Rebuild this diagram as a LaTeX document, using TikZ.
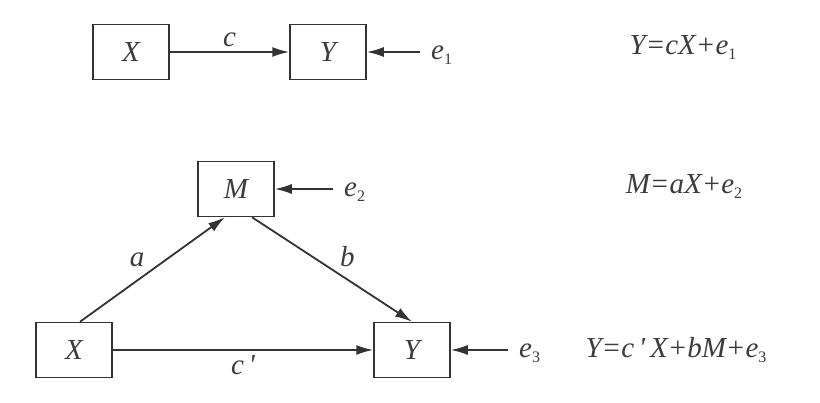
\documentclass[tikz,border=0pt]{standalone}
\usepackage{fontspec}
\setmainfont{Liberation Serif}
\usepackage{xcolor}
\usetikzlibrary{arrows.meta, positioning}
\definecolor{linegray}{HTML}{333333}
\definecolor{textgray}{HTML}{3C3C3C}
\newcommand{\sub}[1]{\raisebox{-5pt}{\upshape\fontsize{16}{16}\selectfont #1}}

\begin{document}
\begin{tikzpicture}[
        x=1pt, y=-1pt,
        every node/.style={font=\fontsize{29}{33}\selectfont\itshape, text=textgray},
        var/.style={draw=linegray, line width=1.5pt, minimum width=76pt, minimum height=55pt, inner sep=0pt},
        err/.style={anchor=west, inner xsep=11pt, inner ysep=2pt},
        arr/.style={-{Latex[length=17pt, width=10pt]}, line width=1.8pt, draw=linegray}
        ]
        \useasboundingbox (0,0) rectangle (820,403);

        % Total effect
        \node[var] (X1) at (131,52) {X};
        \node[var] (Y1) at (328,52) {Y};
        \node[err] (e1) at (420,55) {e\sub{1}};
        \node (eq1) at (683,48) {Y=cX+e\sub{1}};

        \draw[arr] (X1) -- node[above=1pt] {c} (Y1);
        \draw[arr] (e1.west |- Y1.east) -- (Y1.east);

        % Mediation model
        \node[var] (M) at (236,189) {M};
        \node[var] (X2) at (74,350) {X};
        \node[var] (Y2) at (412,350) {Y};
        \node[err] (e2) at (333,192) {e\sub{2}};
        \node[err] (e3) at (508,353) {e\sub{3}};
        \node (eq2) at (684,187) {M=aX+e\sub{2}};
        \node (eq3) at (676,350) {Y=c\,\textquotesingle\,X+bM+e\sub{3}};

        \draw[arr] ([xshift=6pt]X2.north) -- node[above left=-2pt and 4pt] {a} ([xshift=-11pt]M.south);
        \draw[arr] ([xshift=16pt]M.south) -- node[above right=-2pt and 4pt] {b} (Y2.north);
        \draw[arr] (X2) -- node[below=1pt] {c\,\textquotesingle} (Y2);
        \draw[arr] (e2.west |- M.east) -- (M.east);
        \draw[arr] (e3.west |- Y2.east) -- (Y2.east);
    \end{tikzpicture}
\end{document}
